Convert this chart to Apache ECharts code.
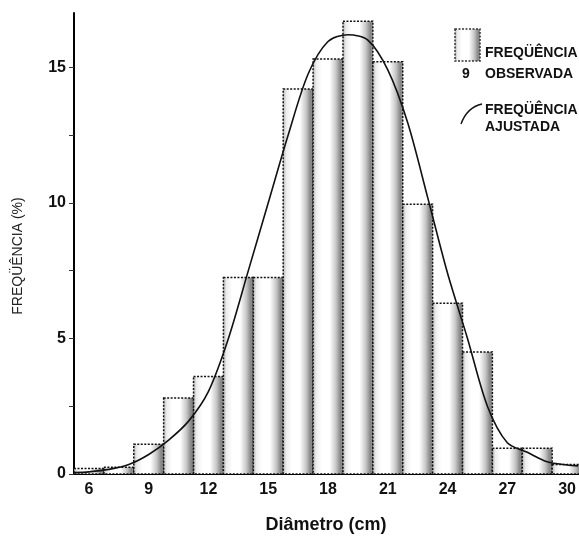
<!DOCTYPE html>
<html>
<head>
<meta charset="utf-8">
<script src="https://cdn.jsdelivr.net/npm/echarts@6/dist/echarts.min.js"></script>
<style>
html, body { margin: 0; padding: 0; background: #fff; }
#chart { width: 579px; height: 539px; }
</style>
</head>
<body>
<div id="chart"></div>
<script>
// classes de diâmetro (centro, cm) e frequência observada (%)
var classCenters = [6, 7.5, 9, 10.5, 12, 13.5, 15, 16.5, 18, 19.5, 21, 22.5, 24, 25.5, 27, 28.5, 30];
var observed = [0.2, 0.25, 1.1, 2.8, 3.6, 7.25, 7.25, 14.2, 15.3, 16.7, 15.2, 9.95, 6.3, 4.5, 0.95, 0.95, 0.35];
var classWidth = 1.5;

// frequência ajustada (curva)
var fitX = [5.25, 6, 7, 8, 9, 10, 11, 12, 13, 14, 15, 16, 17, 18, 19, 20, 21, 22, 23, 24, 25, 26, 27, 28, 29, 30, 30.55];
var fitY = [0.05, 0.08, 0.17, 0.35, 0.72, 1.25, 1.95, 3.05, 5.0, 7.5, 10.0, 12.5, 14.75, 15.95, 16.2, 16.0, 14.9, 12.95, 10.2, 7.4, 5.0, 2.5, 1.15, 0.8, 0.45, 0.33, 0.3];

var xTicks = [6, 9, 12, 15, 18, 21, 24, 27, 30];
var yTicks = [0, 2.5, 5, 7.5, 10, 12.5, 15];
var yLabels = [0, 5, 10, 15];

var font = "'Liberation Sans', Arial, sans-serif";

var chartDom = document.getElementById('chart');
var myChart = echarts.init(chartDom);

function barFill() {
  return new echarts.graphic.LinearGradient(0, 0, 1, 0, [
    { offset: 0, color: '#a8a8a8' },
    { offset: 0.12, color: '#ececec' },
    { offset: 0.3, color: '#ffffff' },
    { offset: 0.55, color: '#ffffff' },
    { offset: 0.75, color: '#c8c8c8' },
    { offset: 0.9, color: '#858585' },
    { offset: 1, color: '#9c9c9c' }
  ]);
}

var barData = classCenters.map(function (c, i) { return [c, observed[i]]; });
var fitData = fitX.map(function (x, i) { return [x, fitY[i]]; });

var option = {
  backgroundColor: '#fff',
  animation: false,
  grid: { left: 74, right: 0, top: 13, bottom: 60, containLabel: false },
  xAxis: {
    type: 'value',
    min: 5.25,
    max: 30.55,
    name: 'Diâmetro (cm)',
    nameLocation: 'middle',
    nameGap: 42,
    nameTextStyle: { fontFamily: font, fontSize: 18, fontWeight: 'bold', color: '#111' },
    axisLine: { lineStyle: { color: '#000', width: 2 } },
    axisTick: { show: false },
    splitLine: { show: false },
    axisLabel: {
      customValues: xTicks,
      margin: 8,
      fontFamily: font, fontSize: 16, fontWeight: 'bold', color: '#111'
    }
  },
  yAxis: {
    type: 'value',
    min: 0,
    max: 17,
    axisLine: { show: true, lineStyle: { color: '#000', width: 2 } },
    axisTick: { show: true, customValues: yTicks, length: 5, lineStyle: { color: '#333', width: 1 } },
    splitLine: { show: false },
    axisLabel: {
      customValues: yLabels,
      margin: 8,
      fontFamily: font, fontSize: 16, fontWeight: 'bold', color: '#111'
    }
  },
  series: [{
    name: 'FREQÜÊNCIA OBSERVADA',
    type: 'custom',
    clip: true,
    data: barData,
    renderItem: function (params, api) {
      var c = api.value(0), v = api.value(1);
      var p0 = api.coord([c - classWidth / 2, v]);
      var p1 = api.coord([c + classWidth / 2, 0]);
      return {
        type: 'rect',
        shape: { x: p0[0], y: p0[1], width: p1[0] - p0[0], height: p1[1] - p0[1] },
        style: {
          fill: barFill(),
          stroke: '#111',
          lineWidth: 1.5,
          lineDash: [2, 1.5]
        }
      };
    },
    z: 2
  }, {
    name: 'FREQÜÊNCIA AJUSTADA',
    type: 'line',
    data: fitData,
    smooth: 0.3,
    showSymbol: false,
    lineStyle: { color: '#111', width: 1.6 },
    z: 3
  }],
  graphic: [
    // rótulo do eixo y
    {
      type: 'text', x: 18, y: 256, rotation: Math.PI / 2,
      style: { text: 'FREQÜÊNCIA (%)', font: '14px ' + font, fill: '#222', textAlign: 'center', textVerticalAlign: 'middle' }
    },
    // legenda
    {
      type: 'rect',
      shape: { x: 455, y: 29, width: 25, height: 32 },
      style: { fill: barFill(), stroke: '#333', lineWidth: 1.5, lineDash: [2, 1.5] }
    },
    { type: 'text', x: 485, y: 53, style: { text: 'FREQÜÊNCIA', font: 'bold 14px ' + font, fill: '#111', textVerticalAlign: 'middle' } },
    { type: 'text', x: 462, y: 74, style: { text: '9', font: 'bold 14px ' + font, fill: '#111', textVerticalAlign: 'middle' } },
    { type: 'text', x: 485, y: 74, style: { text: 'OBSERVADA', font: 'bold 14px ' + font, fill: '#111', textVerticalAlign: 'middle' } },
    {
      type: 'bezierCurve',
      shape: { x1: 461, y1: 124, x2: 482, y2: 104, cpx1: 465, cpy1: 113, cpx2: 473, cpy2: 106 },
      style: { stroke: '#111', lineWidth: 1.4, fill: null }
    },
    { type: 'text', x: 485, y: 110, style: { text: 'FREQÜÊNCIA', font: 'bold 14px ' + font, fill: '#111', textVerticalAlign: 'middle' } },
    { type: 'text', x: 485, y: 127, style: { text: 'AJUSTADA', font: 'bold 14px ' + font, fill: '#111', textVerticalAlign: 'middle' } }
  ]
};

option && myChart.setOption(option);
window.addEventListener('resize', function () {
  myChart.resize();
});
</script>
</body>
</html>
